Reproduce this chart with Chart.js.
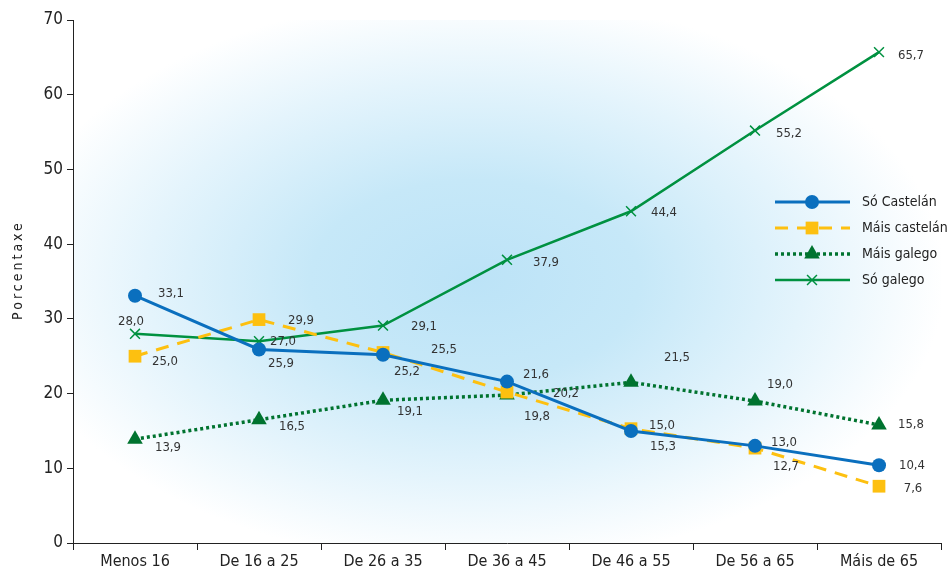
<!DOCTYPE html>
<html>
<head>
<meta charset="utf-8">
<script src="https://cdn.jsdelivr.net/npm/chart.js@4/dist/chart.umd.min.js"></script>
<style>
  html, body { margin: 0; padding: 0; background: #fff; }
  #wrap { width: 950px; height: 573px; position: relative; }
</style>
</head>
<body>
<div id="wrap"><canvas id="myChart"></canvas></div>
<script>
// Age groups on the x axis
const ageGroups = ["Menos 16", "De 16 a 25", "De 26 a 35", "De 36 a 45", "De 46 a 55", "De 56 a 65", "Máis de 65"];

// Percentages per language group
const soCastelan = [33.1, 25.9, 25.2, 21.6, 15.0, 13.0, 10.4];
const maisCastelan = [25.0, 29.9, 25.5, 20.2, 15.3, 12.7, 7.6];
const maisGalego = [13.9, 16.5, 19.1, 19.8, 21.5, 19.0, 15.8];
const soGalego = [28.0, 27.0, 29.1, 37.9, 44.4, 55.2, 65.7];

const yTicks = [0, 10, 20, 30, 40, 50, 60, 70];

const FONT = "'Liberation Sans Narrow', 'DejaVu Sans Condensed', 'Liberation Sans', Arial, sans-serif";

// where each value label sits relative to its point (dx, dy in px)
const labelOffsets = [
  [[36, -2], [22, 14], [24, 17], [29, -7], [31, -5], [29, -3], [33, 0]],
  [[30, 5], [42, 1], [61, -3], [59, 2], [32, 18], [31, 19], [34, 2]],
  [[33, 8], [33, 7], [27, 11], [30, 22], [46, -25], [25, -16], [32, 0]],
  [[-4, -12], [24, 0], [41, 1], [39, 3], [33, 1], [34, 3], [32, 3]]
];

// soft blue halo behind the plot
const halo = {
  id: "halo",
  beforeDraw(chart) {
    const { ctx, chartArea: a } = chart;
    ctx.save();
    ctx.beginPath();
    ctx.rect(a.left, a.top, a.right - a.left, a.bottom - a.top);
    ctx.clip();
    const cx = 475, cy = 280, rx = 470, ry = 285;
    ctx.translate(cx, cy);
    ctx.scale(rx / ry, 1);
    const g = ctx.createRadialGradient(0, 0, 0, 0, 0, ry);
    g.addColorStop(0, "#bce3f7");
    g.addColorStop(0.35, "#c6e8f8");
    g.addColorStop(0.7, "#e4f4fc");
    g.addColorStop(1, "#ffffff");
    ctx.fillStyle = g;
    ctx.fillRect(-ry * 2, -ry * 2, ry * 4, ry * 4);
    ctx.restore();
  }
};

// value labels, legend and rotated axis title
const extras = {
  id: "extras",
  afterDatasetsDraw(chart) {
    const { ctx } = chart;
    ctx.save();
    ctx.font = "13px " + FONT;
    ctx.fillStyle = "#333";
    ctx.textAlign = "center";
    ctx.textBaseline = "middle";
    chart.data.datasets.forEach((ds, i) => {
      chart.getDatasetMeta(i).data.forEach((pt, j) => {
        const [dx, dy] = labelOffsets[i][j];
        ctx.fillText(ds.data[j].toFixed(1).replace(".", ","), pt.x + dx, pt.y + dy);
      });
    });

    // legend
    const x0 = 775, x1 = 850, mx = 812, tx = 862;
    chart.data.datasets.forEach((ds, i) => {
      const y = 202 + i * 26;
      ctx.strokeStyle = ds.borderColor;
      ctx.lineWidth = ds.borderWidth;
      ctx.setLineDash(ds.borderDash || []);
      ctx.beginPath();
      ctx.moveTo(x0, y);
      ctx.lineTo(x1, y);
      ctx.stroke();
      ctx.setLineDash([]);
      ctx.fillStyle = ds.backgroundColor;
      ctx.strokeStyle = ds.borderColor;
      ctx.lineWidth = ds.pointBorderWidth;
      Chart.helpers.drawPoint(ctx, {
        pointStyle: ds.pointStyle,
        radius: ds.pointRadius,
        borderWidth: ds.pointBorderWidth
      }, mx, y);
      ctx.fillStyle = "#222";
      ctx.font = "14px " + FONT;
      ctx.textAlign = "left";
      ctx.fillText(ds.label, tx, y);
    });

    // y axis title
    ctx.translate(18, 270);
    ctx.rotate(-Math.PI / 2);
    ctx.font = "14px " + FONT;
    ctx.textAlign = "center";
    ctx.fillStyle = "#222";
    ctx.letterSpacing = "3px";
    ctx.fillText("Porcentaxe", 0, 0);
    ctx.restore();
  }
};

const ctx = document.getElementById("myChart").getContext("2d");

const myChart = new Chart(ctx, {
  type: "line",
  data: {
    labels: ageGroups,
    datasets: [
      {
        label: "Só Castelán",
        data: soCastelan,
        borderColor: "#0a6fbe",
        backgroundColor: "#0a6fbe",
        borderWidth: 3,
        pointStyle: "circle",
        pointRadius: 7,
        pointBorderWidth: 0
      },
      {
        label: "Máis castelán",
        data: maisCastelan,
        borderColor: "#fdc010",
        backgroundColor: "#fdc010",
        borderWidth: 3,
        borderDash: [13, 9],
        pointStyle: "rect",
        pointRadius: 9,
        pointBorderWidth: 0
      },
      {
        label: "Máis galego",
        data: maisGalego,
        borderColor: "#00732f",
        backgroundColor: "#00732f",
        borderWidth: 3.5,
        borderDash: [3, 3],
        pointStyle: "triangle",
        pointRadius: 9,
        pointBorderWidth: 0
      },
      {
        label: "Só galego",
        data: soGalego,
        borderColor: "#009140",
        backgroundColor: "#009140",
        borderWidth: 2.5,
        pointStyle: "crossRot",
        pointRadius: 7,
        pointBorderWidth: 1.5
      }
    ]
  },
  options: {
    responsive: true,
    maintainAspectRatio: false,
    animation: false,
    layout: { padding: { top: 20, right: 8, left: 0, bottom: 0 } },
    plugins: {
      legend: { display: false },
      tooltip: { enabled: false }
    },
    elements: { line: { tension: 0 } },
    scales: {
      x: {
        offset: true,
        afterFit: (s) => { s.height = 30; },
        grid: {
          offset: true,
          drawOnChartArea: false,
          drawTicks: true,
          tickLength: 7,
          color: "#222"
        },
        border: { color: "#222", width: 1 },
        ticks: {
          color: "#222",
          font: { family: FONT, size: 16 },
          padding: 2,
          maxRotation: 0
        }
      },
      y: {
        min: 0,
        max: 70,
        afterFit: (s) => { s.width = 73; },
        afterBuildTicks: (s) => { s.ticks = yTicks.map((v) => ({ value: v })); },
        grid: {
          drawOnChartArea: false,
          drawTicks: true,
          tickLength: 6,
          color: "#222"
        },
        border: { color: "#222", width: 1 },
        ticks: {
          color: "#222",
          font: { family: FONT, size: 17 },
          padding: 4
        }
      }
    }
  },
  plugins: [halo, extras]
});
</script>
</body>
</html>
